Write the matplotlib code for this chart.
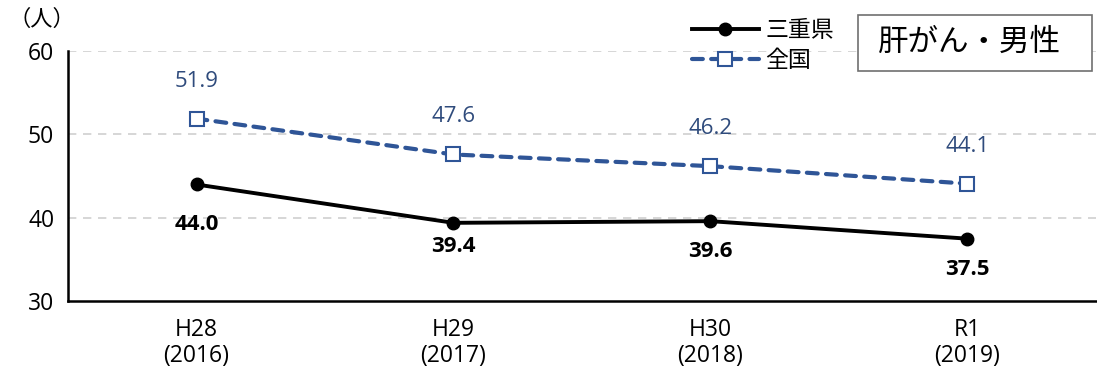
import matplotlib
matplotlib.use("Agg")
import matplotlib.pyplot as plt
from matplotlib.patches import Rectangle

plt.rcParams['font.family'] = ['Open Sans', 'Noto Sans CJK JP', 'DejaVu Sans']

years = ['H28\n(2016)', 'H29\n(2017)', 'H30\n(2018)', 'R1\n(2019)']
mie = [44.0, 39.4, 39.6, 37.5]
national = [51.9, 47.6, 46.2, 44.1]

# label offsets (points) below the Mie values
mie_offsets = [-29, -17, -22, -22]

black = '#000000'
blue = '#2F5597'
label_blue = '#2F4B7C'

fig = plt.figure(figsize=(10.97, 3.76), dpi=100)
ax = fig.add_axes([0.062, 0.199, 0.937, 0.665])

x = range(len(years))
ax.plot(x, mie, color=black, lw=2.8, marker='o', ms=9, label='三重県', zorder=4)
ax.plot(x, national, color=blue, lw=3, ls=(0, (2.6, 2.0)), dash_capstyle='round',
        marker='s', ms=10, mfc='white', mec=blue, mew=1.5, label='全国', zorder=3)

for i, v in enumerate(mie):
    ax.annotate(f'{v:.1f}', (i, v), xytext=(0, mie_offsets[i]), textcoords='offset points',
                ha='center', va='center', fontsize=16, fontweight='bold', color=black)
for i, v in enumerate(national):
    ax.annotate(f'{v:.1f}', (i, v), xytext=(0, 27), textcoords='offset points',
                ha='center', va='center', fontsize=16, color=label_blue)

ax.set_xlim(-0.5, len(years) - 0.5)
ax.set_ylim(30, 60)
ax.set_yticks([30, 40, 50, 60])
ax.set_xticks(list(x))
ax.set_xticklabels(years, linespacing=1.1)
ax.tick_params(axis='both', length=0, labelsize=16.5, pad=10)
ax.tick_params(axis='x', pad=12)

for y in [40, 50, 60]:
    ax.axhline(y, color='#D0D0D0', lw=1.2, ls=(0, (5, 4)), zorder=0)

for s in ['top', 'right']:
    ax.spines[s].set_visible(False)
for s in ['left', 'bottom']:
    ax.spines[s].set_linewidth(1.8)
    ax.spines[s].set_color(black)

fig.text(0.008, 0.945, '（人）', fontsize=16, ha='left', va='center')

leg = ax.legend(loc='upper left', bbox_to_anchor=(0.631, 0.95),
                bbox_transform=fig.transFigure, frameon=False,
                fontsize=16.5, handlelength=2.9, handletextpad=0.3,
                labelspacing=0.25, borderaxespad=0, borderpad=0)

# title box
fig.patches.append(Rectangle((0.782, 0.811), 0.2133, 0.149, transform=fig.transFigure,
                             fc='white', ec='#707070', lw=1.2, zorder=5))
fig.text(0.884, 0.886, '肝がん・男性', fontsize=22, ha='center', va='center', zorder=6)

fig.savefig('out.png', dpi=100)
